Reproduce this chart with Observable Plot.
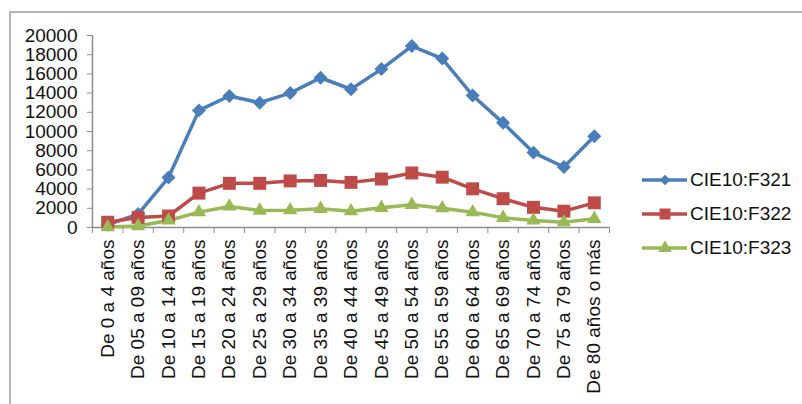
<!DOCTYPE html>
<html>
<head>
<meta charset="utf-8">
<script src="https://cdn.jsdelivr.net/npm/d3@7"></script>
<script src="https://cdn.jsdelivr.net/npm/@observablehq/plot@0.6"></script>
<style>
  html, body { margin: 0; padding: 0; background: #fff; }
  #wrap { position: relative; width: 802px; height: 404px; overflow: hidden; font-family: "Liberation Sans", Arial, sans-serif; }
  #border { position: absolute; left: 9px; top: 11px; width: 800px; height: 400px; border-left: 2px solid #b4b4b4; border-top: 2px solid #b4b4b4; box-sizing: border-box; }
  #legend { position: absolute; left: 640px; top: 163px; }
  .item { display: flex; align-items: center; height: 34px; font-size: 19px; color: #111; }
  .item svg { margin-right: 2px; }
</style>
</head>
<body>
<div id="wrap"><div id="border"></div><div id="legend"></div></div>
<script>
const categories = ["De 0 a 4 años","De 05 a 09 años","De 10 a 14 años","De 15 a 19 años","De 20 a 24 años","De 25 a 29 años","De 30 a 34 años","De 35 a 39 años","De 40 a 44 años","De 45 a 49 años","De 50 a 54 años","De 55 a 59 años","De 60 a 64 años","De 65 a 69 años","De 70 a 74 años","De 75 a 79 años","De 80 años o más"];
const seriesNames = ["CIE10:F321","CIE10:F322","CIE10:F323"];
const f321 = [300,1400,5200,12200,13700,13000,14000,15600,14400,16500,18900,17600,13750,10900,7800,6300,9500];
const f322 = [550,1050,1200,3580,4600,4600,4850,4900,4700,5050,5680,5240,4030,3000,2100,1700,2570];
const f323 = [50,150,730,1600,2190,1770,1800,1950,1700,2050,2360,2010,1600,1010,730,550,900];
const yTicks = [0,2000,4000,6000,8000,10000,12000,14000,16000,18000,20000];
const colors = ["#4a7ebb","#be4b48","#98b954"];
const symbols = ["diamond2","square","triangle"];
const radii = [6.3,7.3,5.3];

const valuesBySeries = [f321, f322, f323];
const data = [];
seriesNames.forEach((s, si) => valuesBySeries[si].forEach((v, i) => data.push({series: s, idx: i + 0.5, value: v})));

const axisGray = "#8c8c8c";
const plot = Plot.plot({
  width: 802,
  height: 404,
  marginLeft: 92,
  marginRight: 193,
  marginTop: 35,
  marginBottom: 177,
  style: {fontFamily: "'Liberation Sans', Arial, sans-serif", background: "transparent", color: "#111"},
  x: {type: "linear", domain: [0, categories.length], axis: null},
  y: {domain: [0, 20000], axis: null},
  color: {domain: seriesNames, range: colors},
  marks: [
    Plot.ruleX([0], {stroke: axisGray, strokeWidth: 1.5}),
    Plot.ruleY([0], {stroke: axisGray, strokeWidth: 1.5}),
    Plot.axisY({ticks: yTicks, tickSize: 5, tickPadding: 10, tickFormat: d3.format("d"), fontSize: 19, stroke: axisGray, fill: "#111", label: null}),
    Plot.axisX({ticks: d3.range(categories.length + 1), tickSize: 6, tickFormat: () => "", stroke: axisGray, label: null}),
    Plot.axisX({ticks: categories.map((c, i) => i + 0.5), tickSize: 0, tickPadding: 12, tickRotate: -90, tickFormat: d => categories[Math.floor(d)], fontSize: 19, fill: "#111", label: null}),
    Plot.line(data, {x: "idx", y: "value", z: "series", stroke: "series", strokeWidth: 3.5}),
    ...seriesNames.map((s, si) => Plot.dot(data.filter(d => d.series === s), {x: "idx", y: "value", symbol: () => symbols[si], r: radii[si], fill: colors[si], stroke: "none"}))
  ]
});
plot.style.position = "absolute";
plot.style.left = "0px";
plot.style.top = "0px";
document.getElementById("wrap").appendChild(plot);

const legend = d3.select("#legend");
seriesNames.forEach((s, si) => {
  const item = legend.append("div").attr("class", "item");
  const svg = item.append("svg").attr("width", 48).attr("height", 20);
  svg.append("line").attr("x1", 2).attr("x2", 47).attr("y1", 10).attr("y2", 10).attr("stroke", colors[si]).attr("stroke-width", 3.5);
  svg.append("path").attr("transform", "translate(25,10)").attr("fill", colors[si])
    .attr("d", d3.symbol([d3.symbolDiamond2, d3.symbolSquare, d3.symbolTriangle][si], [70, 120, 80][si])());
  item.append("span").text(s);
});
</script>
</body>
</html>
